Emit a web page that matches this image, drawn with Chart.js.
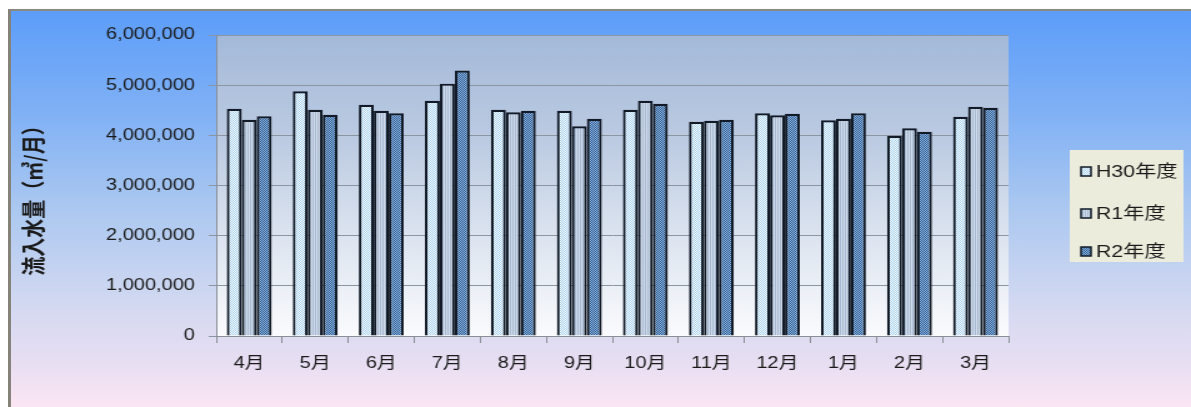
<!DOCTYPE html>
<html>
<head>
<meta charset="utf-8">
<script src="https://cdn.jsdelivr.net/npm/chart.js@4"></script>
<style>
html,body{margin:0;padding:0;background:#fff;overflow:hidden;width:1191px;height:407px;}
#frame{position:absolute;left:8px;top:9px;width:1183px;height:398px;box-sizing:border-box;
  border-top:2px solid #8c8a80;border-left:3px solid #858379;
  background:linear-gradient(to bottom,#5c9df9 0%,#7fb0f5 25%,#abc8f0 50%,#d4d9f1 75%,#e6def2 88%,#fbe5f3 100%);}
#wrap{position:absolute;left:0;top:0;width:953px;height:407px;transform:scaleX(1.2497);transform-origin:0 0;}
</style>
</head>
<body>
<div id="frame"></div>
<div id="wrap"><canvas id="c" width="953" height="407" style="width:953px;height:407px"></canvas></div>
<script>
// --- data ---
const months = ['4月','5月','6月','7月','8月','9月','10月','11月','12月','1月','2月','3月'];
const seriesNames = ['H30年度','R1年度','R2年度'];
const h30 = [4530000,4880000,4610000,4690000,4510000,4490000,4510000,4270000,4440000,4300000,3990000,4370000];
const r1  = [4310000,4510000,4490000,5030000,4460000,4180000,4690000,4290000,4400000,4330000,4140000,4570000];
const r2  = [4380000,4410000,4440000,5290000,4490000,4330000,4630000,4310000,4430000,4440000,4070000,4550000];
const yTicks = [0,1000000,2000000,3000000,4000000,5000000,6000000];
const yTitle = '流入水量（㎥/月）';

const canvas = document.getElementById('c');
const ctx = canvas.getContext('2d');
const FONT = '"Liberation Sans", "Noto Sans CJK JP", sans-serif';

// small tiled patterns for the bar fills
function makePattern(base, dot, kind){
  const p = document.createElement('canvas');
  p.width = 4; p.height = 4;
  const g = p.getContext('2d');
  g.fillStyle = base; g.fillRect(0,0,4,4);
  g.fillStyle = dot;
  if (kind === 'stripe'){
    g.fillRect(1,0,1,4); g.fillRect(3,0,1,4);
  } else {
    g.fillRect(0,0,1,1); g.fillRect(2,0,1,1); g.fillRect(1,1,1,1); g.fillRect(3,1,1,1);
    g.fillRect(0,2,1,1); g.fillRect(2,2,1,1); g.fillRect(1,3,1,1); g.fillRect(3,3,1,1);
  }
  return ctx.createPattern(p, 'repeat');
}
const fills = [
  makePattern('#f2fafd', '#acd2ee', 'dots'),
  makePattern('#a6b8d1', '#d3deec', 'stripe'),
  makePattern('#335f97', '#8ab2da', 'dots')
];
const borderCol = '#111a26';

// plot area gradient, y title, legend box
const decor = {
  id: 'decor',
  beforeDraw(chart){
    const a = chart.chartArea, c = chart.ctx;
    const gr = c.createLinearGradient(0, a.top, 0, a.bottom);
    gr.addColorStop(0, '#a4b9d9');
    gr.addColorStop(0.35, '#bccbe2');
    gr.addColorStop(0.7, '#dfe6f1');
    gr.addColorStop(1, '#fafbfd');
    c.save();
    c.fillStyle = gr;
    c.fillRect(a.left, a.top, a.right - a.left, a.bottom - a.top);
    c.restore();
  },
  afterDraw(chart){
    const c = chart.ctx;
    c.save();
    c.translate(26.5, 196);
    c.rotate(-Math.PI/2);
    c.font = 'bold 19px "Noto Sans CJK JP", sans-serif';
    c.fillStyle = '#1a1a1a';
    c.textAlign = 'center';
    c.textBaseline = 'middle';
    c.fillText(yTitle, 0, 0);
    c.restore();

    // legend
    c.save();
    c.fillStyle = '#ececdc';
    c.fillRect(856, 150, 91, 112);
    const ys = [171, 213, 251];
    c.font = '17px ' + FONT;
    c.textBaseline = 'middle';
    c.textAlign = 'left';
    seriesNames.forEach(function(name, i){
      c.fillStyle = fills[i];
      c.fillRect(865, ys[i]-4, 8, 9);
      c.strokeStyle = borderCol;
      c.lineWidth = 1.5;
      c.strokeRect(865, ys[i]-4, 8, 9);
      c.fillStyle = '#1a1a1a';
      c.fillText(name, 877, ys[i]+1);
    });
    c.restore();
  }
};

const seriesData = [h30, r1, r2];
const datasets = seriesNames.map(function(name, i){
  return {
    label: name,
    data: seriesData[i],
    backgroundColor: fills[i],
    borderColor: borderCol,
    borderWidth: 2.2,
    borderSkipped: 'bottom',
    categoryPercentage: 0.68,
    barPercentage: 1.0
  };
});

new Chart(canvas, {
  type: 'bar',
  data: { labels: months, datasets: datasets },
  plugins: [decor],
  options: {
    responsive: false,
    animation: false,
    devicePixelRatio: 1,
    layout: { padding: { left: 0, top: 35, right: 146, bottom: 0 } },
    plugins: { legend: { display: false }, tooltip: { enabled: false } },
    scales: {
      x: {
        afterFit(scale){ scale.height = 71; },
        grid: { display: true, drawOnChartArea: false, drawTicks: true, tickLength: 7, color: '#8a8f96', offset: true },
        border: { display: true, color: '#8a8f96', width: 1 },
        ticks: { font: { size: 16, family: FONT }, color: '#1a1a1a', padding: 11, maxRotation: 0 }
      },
      y: {
        min: 0, max: 6000000,
        afterFit(scale){ scale.width = 173; },
        afterBuildTicks(scale){ scale.ticks = yTicks.map(function(v){ return { value: v }; }); },
        grid: { color: '#8c96a2', tickLength: 6, drawTicks: true },
        border: { display: true, color: '#8a8f96', width: 1 },
        ticks: {
          font: { size: 16, family: FONT }, color: '#1a1a1a', padding: 11,
          callback: function(v){ return Number(v).toLocaleString('en-US'); }
        }
      }
    }
  }
});
</script>
</body>
</html>
